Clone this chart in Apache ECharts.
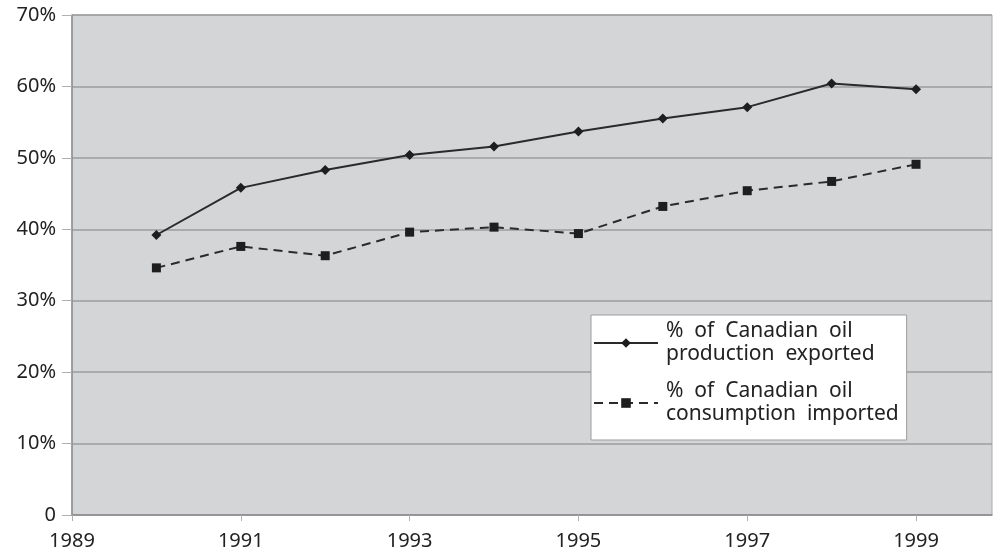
<!DOCTYPE html>
<html>
<head>
<meta charset="utf-8">
<title>Canadian oil exports and imports</title>
<script src="https://cdn.jsdelivr.net/npm/echarts@6/dist/echarts.min.js"></script>
<style>
  html, body { margin: 0; padding: 0; background: #fff; }
  #chart { width: 997px; height: 554px; }
</style>
</head>
<body>
<div id="chart"></div>
<script>
// values (percent)
const years = [1990, 1991, 1992, 1993, 1994, 1995, 1996, 1997, 1998, 1999]
const exported = [39.2, 45.8, 48.3, 50.4, 51.6, 53.7, 55.5, 57.1, 60.4, 59.6]
const imported = [34.6, 37.6, 36.3, 39.6, 40.3, 39.4, 43.2, 45.4, 46.7, 49.1]
const seriesNames = [
  '%  of  Canadian  oil\nproduction  exported',
  '%  of  Canadian  oil\nconsumption  imported'
]

const font = 'Noto Sans'
const chart = echarts.init(document.getElementById('chart'))

chart.setOption({
  animation: false,
  textStyle: { fontFamily: font },
  grid: {
    left: 72,
    right: 5,
    top: 15,
    bottom: 39,
    show: true,
    backgroundColor: '#d4d5d7',
    borderColor: '#a9aaac',
    borderWidth: 1
  },
  legend: {
    orient: 'vertical',
    left: 591,
    top: 315,
    padding: [5, 8, 14, 2],
    itemGap: 14,
    itemWidth: 64,
    itemHeight: 12,
    backgroundColor: '#ffffff',
    borderColor: '#9d9d9d',
    borderWidth: 1,
    textStyle: { fontFamily: font, fontSize: 21, color: '#222', lineHeight: 23, padding: [0, 0, 0, 3] },
    data: seriesNames
  },
  xAxis: {
    type: 'value',
    min: 1989,
    max: 1999.9,
    interval: 2,
    axisLine: { show: true, lineStyle: { color: '#8e8f91', width: 1.5 } },
    axisTick: { show: true, length: 6, lineStyle: { color: '#b0b0b0' } },
    splitLine: { show: false },
    axisLabel: {
      margin: 16,
      fontSize: 20,
      color: '#222',
      showMaxLabel: false,
      formatter: v => String(v)
    }
  },
  yAxis: {
    type: 'value',
    min: 0,
    max: 70,
    interval: 10,
    axisLine: { show: true, lineStyle: { color: '#8e8f91', width: 1.5 } },
    axisTick: { show: true, length: 10, lineStyle: { color: '#b0b0b0' } },
    splitLine: { show: true, lineStyle: { color: '#9c9d9f', width: 1.5 } },
    axisLabel: {
      margin: 16,
      fontSize: 20,
      color: '#222',
      formatter: v => (v === 0 ? '0' : v + '%')
    }
  },
  series: [
    {
      name: seriesNames[0],
      type: 'line',
      data: years.map((y, i) => [y, exported[i]]),
      symbol: 'diamond',
      symbolSize: 10,
      color: '#1e1e1e',
      lineStyle: { color: '#2a2a2a', width: 2 },
      itemStyle: { color: '#1e1e1e' }
    },
    {
      name: seriesNames[1],
      type: 'line',
      data: years.map((y, i) => [y, imported[i]]),
      symbol: 'rect',
      symbolSize: 9,
      color: '#1e1e1e',
      lineStyle: { color: '#2a2a2a', width: 2, type: [9, 6] },
      itemStyle: { color: '#1e1e1e' }
    }
  ]
})
</script>
</body>
</html>
